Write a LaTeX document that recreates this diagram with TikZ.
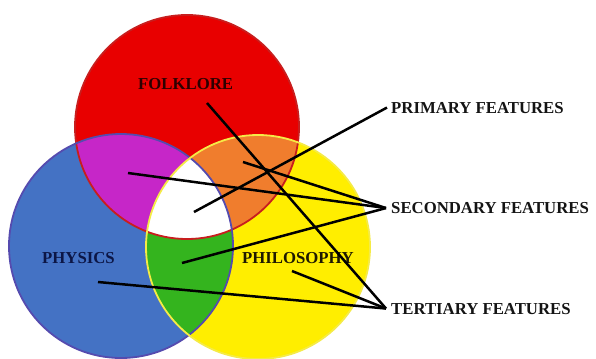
\documentclass[tikz,border=0pt]{standalone}
\usepackage{fontspec}
\setmainfont{Liberation Serif}
\definecolor{cred}{RGB}{232,0,0}
\definecolor{cblue}{RGB}{68,114,196}
\definecolor{cyellow}{RGB}{255,238,0}
\definecolor{cpurple}{RGB}{198,38,200}
\definecolor{corange}{RGB}{240,125,45}
\definecolor{cgreen}{RGB}{52,180,30}
\definecolor{ored}{RGB}{200,30,30}
\definecolor{oblue}{RGB}{85,75,175}
\definecolor{oyellow}{RGB}{245,235,70}
\definecolor{tred}{RGB}{45,0,0}
\definecolor{tblue}{RGB}{12,22,70}
\definecolor{tyel}{RGB}{30,25,0}
\definecolor{tblk}{RGB}{20,20,20}
\tikzset{
  lbl/.style={font=\fontsize{16.8}{18}\selectfont\bfseries, inner sep=0pt, anchor=base west},
  conn/.style={draw=black, line width=2.5bp},
  rim/.style={line width=1.8bp},
}
\begin{document}
\begin{tikzpicture}[x=1bp,y=1bp]
\useasboundingbox (0,0) rectangle (596,-358);
\clip (0,0) rectangle (596,-358);
\fill[white] (0,0) rectangle (596,-358);
\coordinate (R) at (187,-127);
\coordinate (B) at (121,-246);
\coordinate (Y) at (258,-247);
% base fills
\fill[cred] (R) circle[radius=112bp];
\fill[cblue] (B) circle[radius=112bp];
\fill[cyellow] (Y) circle[radius=112bp];
% overlaps
\begin{scope}
  \clip (R) circle[radius=112bp];
  \fill[cpurple] (B) circle[radius=112bp];
  \fill[corange] (Y) circle[radius=112bp];
\end{scope}
\begin{scope}
  \clip (B) circle[radius=112bp];
  \fill[cgreen] (Y) circle[radius=112bp];
\end{scope}
\begin{scope}
  \clip (R) circle[radius=112bp];
  \clip (B) circle[radius=112bp];
  \fill[white] (Y) circle[radius=112bp];
\end{scope}
% outlines
\draw[ored, rim] (R) circle[radius=112bp];
\draw[oblue, rim] (B) circle[radius=112bp];
\draw[oyellow, rim] (Y) circle[radius=112bp];
% labels
\node[lbl, text=tred] (folk) at (138,-89) {FOLKLORE};
\node[lbl, text=tblue] (phys) at (42,-263) {PHYSICS};
\node[lbl, text=tyel] (philo) at (242,-263) {PHILOSOPHY};
\node[lbl, text=tblk] (prim) at (391,-113) {PRIMARY FEATURES};
\node[lbl, text=tblk] (sec) at (391,-213.5) {SECONDARY FEATURES};
\node[lbl, text=tblk] (ter) at (391,-314) {TERTIARY FEATURES};
% connector ends
\coordinate (cP) at ([xshift=-4bp]prim.west);
\coordinate (cS) at ([xshift=-5bp]sec.west);
\coordinate (cT) at ([xshift=-5bp]ter.west);
\coordinate (sFolk) at (207,-103);
\coordinate (sWhite) at (194,-212);
\coordinate (sPurple) at (128,-173);
\coordinate (sOrange) at (243,-162);
\coordinate (sGreen) at (182,-263);
\coordinate (sPhys) at (98,-282);
\coordinate (sPhilo) at (292,-271);
% connectors
\draw[conn] (sWhite) -- (cP);
\draw[conn] (sPurple) -- (cS);
\draw[conn] (sOrange) -- (cS);
\draw[conn] (sGreen) -- (cS);
\draw[conn] (sFolk) -- (cT);
\draw[conn] (sPhys) -- (cT);
\draw[conn] (sPhilo) -- (cT);
\end{tikzpicture}
\end{document}
